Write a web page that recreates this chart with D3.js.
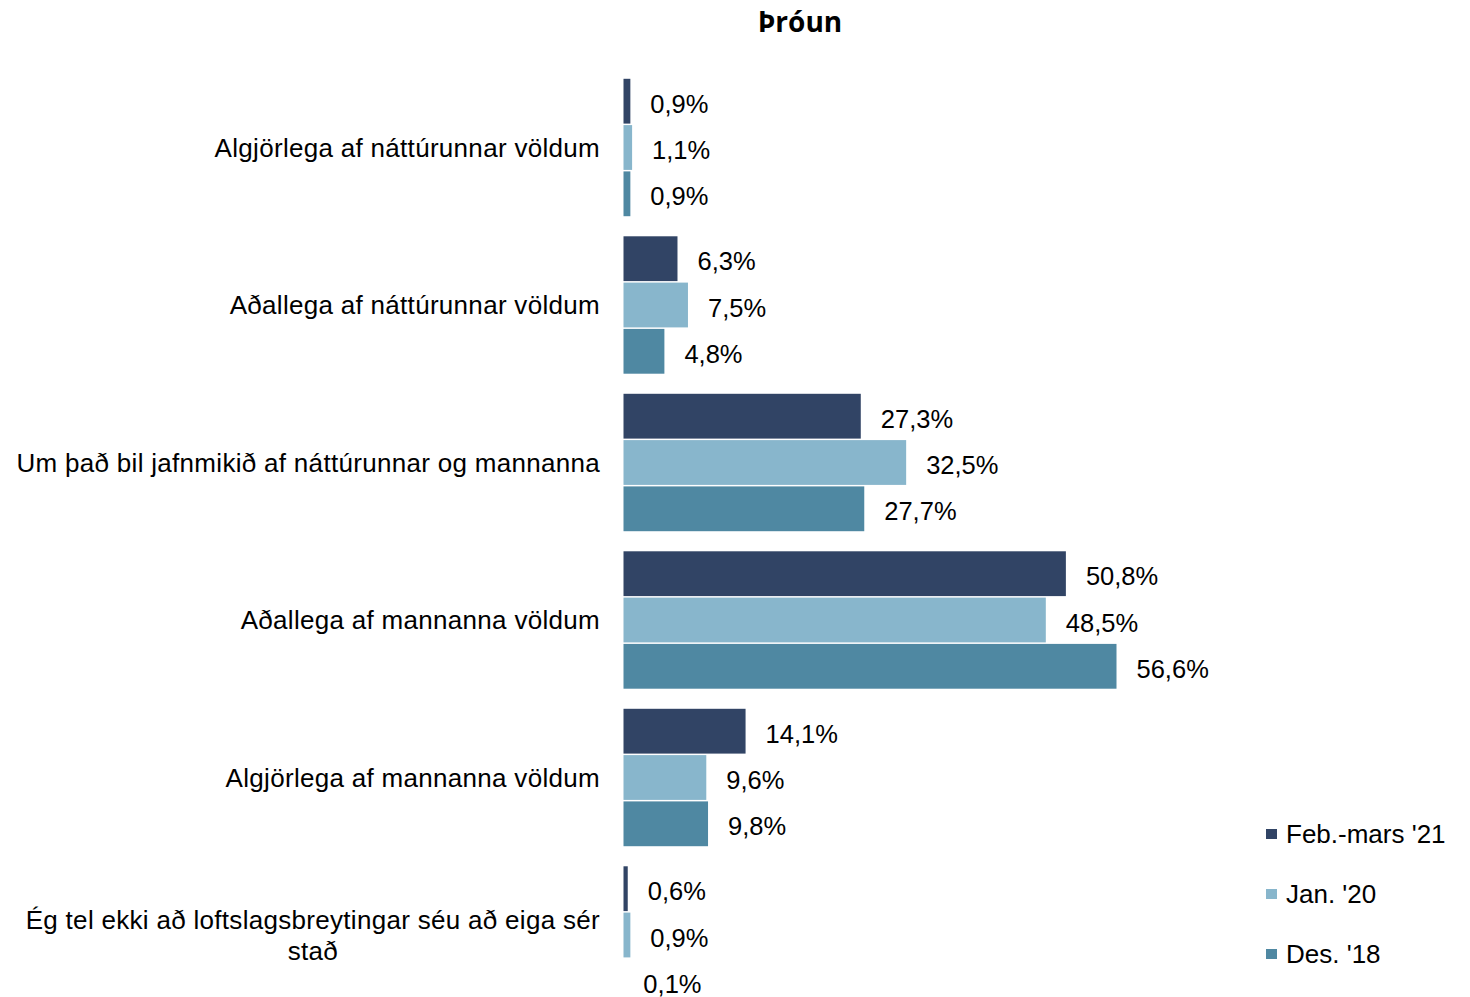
<!DOCTYPE html>
<html>
<head>
<meta charset="utf-8">
<script src="https://cdn.jsdelivr.net/npm/d3@7"></script>
<style>
  html, body { margin: 0; padding: 0; background: #fff; }
  svg { display: block; }
</style>
</head>
<body>
<svg id="chart" width="1470" height="997"></svg>
<script>
const title = "Þróun";
const categories = [
  "Algjörlega af náttúrunnar völdum",
  "Aðallega af náttúrunnar völdum",
  "Um það bil jafnmikið af náttúrunnar og mannanna",
  "Aðallega af mannanna völdum",
  "Algjörlega af mannanna völdum",
  "Ég tel ekki að loftslagsbreytingar séu að eiga sér stað"
];
const categoryLines = [
  ["Algjörlega af náttúrunnar völdum"],
  ["Aðallega af náttúrunnar völdum"],
  ["Um það bil jafnmikið af náttúrunnar og mannanna"],
  ["Aðallega af mannanna völdum"],
  ["Algjörlega af mannanna völdum"],
  ["Ég tel ekki að loftslagsbreytingar séu að eiga sér", "stað"]
];
const seriesNames = ["Feb.-mars '21", "Jan. '20", "Des. '18"];
const seriesColors = ["#314465", "#88b6cc", "#4f88a2"];
const febMars21 = [0.9, 6.3, 27.3, 50.8, 14.1, 0.6];
const jan20 = [1.1, 7.5, 32.5, 48.5, 9.6, 0.9];
const des18 = [0.9, 4.8, 27.7, 56.6, 9.8, 0.1];
const seriesValues = [febMars21, jan20, des18];

const svg = d3.select("#chart");
const font = "'Liberation Sans', Arial, sans-serif";
const fs = 25.5;
const cfs = 26;

const x = d3.scaleLinear().domain([0, 56.6]).range([623.5, 1117.5]);
const y0 = d3.scaleBand().domain(categories).range([69, 1014]).paddingInner(0.118).paddingOuter(0.059);
const y1 = d3.scaleBand().domain(seriesNames).range([0, y0.bandwidth()]).padding(0);

svg.append("text")
  .attr("x", 800).attr("y", 32)
  .attr("text-anchor", "middle")
  .attr("font-family", "'Open Sans', 'DejaVu Sans', sans-serif")
  .attr("font-weight", "bold")
  .attr("font-size", 28)
  .attr("fill", "#000")
  .text(title);

const groups = svg.append("g").selectAll("g")
  .data(categories)
  .join("g")
  .attr("transform", d => `translate(0,${y0(d)})`);

groups.each(function(cat, ci) {
  const g = d3.select(this);
  seriesNames.forEach((s, si) => {
    const v = seriesValues[si][ci];
    g.append("rect")
      .attr("x", x(0))
      .attr("y", y1(s) + 0.5)
      .attr("width", Math.max(0, x(v) - x(0) - 1))
      .attr("height", y1.bandwidth() - 1.5)
      .attr("fill", seriesColors[si]);
    g.append("text")
      .attr("x", x(v) + 19)
      .attr("y", y1(s) + y1.bandwidth() / 2 + 2.5)
      .attr("dy", "0.35em")
      .attr("font-family", font)
      .attr("font-size", fs)
      .attr("fill", "#000")
      .text(d3.format(".1f")(v).replace(".", ",") + "%");
  });
  const lines = categoryLines[ci];
  const lh = 31;
  const cy = y0.bandwidth() / 2;
  const t = g.append("text")
    .attr("font-family", font)
    .attr("font-size", cfs)
    .attr("letter-spacing", 0.3)
    .attr("fill", "#000")
    .attr("text-anchor", "end");
  if (lines.length === 1) {
    t.append("tspan").attr("x", 600).attr("y", cy).attr("dy", "0.35em").text(lines[0]);
  } else {
    t.attr("text-anchor", "middle");
    const tmp = g.append("text").attr("font-family", font).attr("font-size", cfs)
      .attr("letter-spacing", 0.3).text(lines[0]);
    const w = tmp.node().getComputedTextLength();
    tmp.remove();
    const cx = 600 - w / 2;
    lines.forEach((ln, li) => {
      t.append("tspan").attr("x", cx)
        .attr("y", cy + (li - (lines.length - 1) / 2) * lh)
        .attr("dy", "0.35em").text(ln);
    });
  }
});

const legend = svg.append("g");
seriesNames.forEach((s, i) => {
  const ly = 834 + i * 60;
  legend.append("rect").attr("x", 1266).attr("y", ly - 5).attr("width", 11).attr("height", 10).attr("fill", seriesColors[i]);
  legend.append("text").attr("x", 1286).attr("y", ly).attr("dy", "0.35em")
    .attr("font-family", font).attr("font-size", cfs).attr("fill", "#000").text(s);
});
</script>
</body>
</html>
